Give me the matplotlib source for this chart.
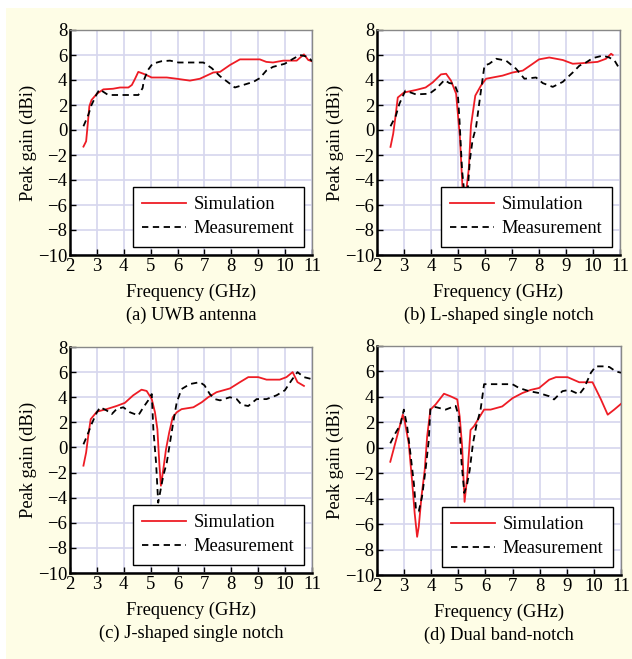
import matplotlib
matplotlib.use('Agg')
import matplotlib.pyplot as plt
from matplotlib.patches import Rectangle

plt.rcParams['font.family'] = ['Liberation Serif', 'DejaVu Serif']
plt.rcParams['font.size'] = 13.3

# (a) UWB antenna
a_sim_f = [2.5, 2.6, 2.64, 2.72, 2.8, 3.0, 3.24, 3.6, 3.86, 4.17, 4.3, 4.42, 4.54, 4.73, 5.04, 5.6,
           5.97, 6.46, 6.83, 7.33, 7.58, 7.95, 8.32, 9.06, 9.3, 9.55, 9.93, 10.43, 10.7, 10.86, 11.0]
a_sim_g = [-1.33, -0.9, 0.0, 1.9, 2.4, 2.9, 3.25, 3.3, 3.4, 3.4, 3.6, 4.1, 4.65, 4.5, 4.2, 4.2,
           4.1, 3.95, 4.1, 4.6, 4.65, 5.2, 5.65, 5.65, 5.45, 5.4, 5.55, 5.55, 6.05, 5.6, 5.5]
a_mea_f = [2.5, 2.68, 2.8, 3.0, 3.1, 3.42, 3.73, 4.54, 4.7, 4.75, 4.9, 5.07, 5.4, 5.72, 6.03, 6.96,
           7.27, 7.58, 7.95, 8.13, 8.44, 8.82, 9.06, 9.3, 9.55, 9.99, 10.3, 10.55, 10.86, 11.0]
a_mea_g = [0.3, 1.2, 2.0, 2.9, 3.25, 2.8, 2.8, 2.8, 3.35, 4.0, 4.8, 5.3, 5.5, 5.55, 5.4, 5.4,
           4.95, 4.3, 3.7, 3.4, 3.6, 3.85, 4.15, 4.75, 5.05, 5.3, 5.7, 6.0, 5.85, 5.5]

# (b) L-shaped single notch
b_sim_f = [2.5, 2.6, 2.68, 2.77, 3.0, 3.44, 3.8, 4.06, 4.37, 4.56, 4.74, 4.93, 5.07, 5.17, 5.3, 5.4,
           5.48, 5.64, 5.85, 6.04, 6.65, 7.02, 7.4, 7.77, 8.0, 8.38, 8.88, 9.25, 9.62, 10.17, 10.48,
           10.67, 10.73]
b_sim_g = [-1.35, -0.3, 1.0, 2.6, 3.0, 3.2, 3.4, 3.8, 4.45, 4.5, 3.95, 2.9, -0.55, -4.8, -4.95, -3.1,
           0.35, 2.75, 3.55, 4.1, 4.35, 4.6, 4.75, 5.3, 5.65, 5.8, 5.6, 5.3, 5.35, 5.45, 5.7,
           6.1, 6.0]
b_mea_f = [2.5, 2.7, 2.83, 3.05, 3.44, 3.94, 4.19, 4.5, 4.68, 4.86, 4.99, 5.05, 5.15, 5.23, 5.36,
           5.44, 5.54, 5.67, 5.85, 5.98, 6.16, 6.41, 6.78, 7.15, 7.46, 7.89, 8.14, 8.51, 8.88, 9.25,
           9.5, 9.74, 9.99, 10.36, 10.6, 10.8, 10.98]
b_mea_g = [0.3, 1.15, 2.1, 3.15, 2.85, 2.9, 3.3, 4.0, 3.75, 3.7, 3.0, 1.0, -3.2, -4.95, -4.8,
           -2.4, -0.8, 0.25, 3.15, 5.15, 5.3, 5.7, 5.55, 4.9, 4.1, 4.2, 3.75, 3.45, 3.85, 4.6,
           5.15, 5.4, 5.75, 5.95, 5.8, 5.55, 4.9]

# (c) J-shaped single notch
c_sim_f = [2.5, 2.6, 2.68, 2.77, 3.0, 3.36, 3.73, 4.04, 4.35, 4.66, 4.85, 5.04, 5.16, 5.25, 5.32,
           5.38, 5.47, 5.57, 5.69, 5.82, 5.97, 6.15, 6.59, 6.9, 7.14, 7.45, 7.95, 8.32, 8.63, 9.0,
           9.31, 9.8, 10.05, 10.28, 10.46, 10.7]
c_sim_g = [-1.45, -0.4, 0.95, 2.25, 2.85, 3.05, 3.3, 3.55, 4.15, 4.6, 4.5, 3.85, 2.8, 1.45, -1.2,
           -3.05, -1.75, -0.15, 1.2, 2.4, 2.8, 3.05, 3.2, 3.6, 4.0, 4.4, 4.7, 5.2, 5.6, 5.6,
           5.4, 5.4, 5.6, 6.0, 5.2, 4.9]
c_mea_f = [2.5, 2.64, 2.8, 3.0, 3.12, 3.36, 3.55, 3.73, 3.98, 4.23, 4.54, 4.73, 4.91, 5.04, 5.1,
           5.2, 5.28, 5.35, 5.47, 5.6, 5.72, 5.84, 5.97, 6.15, 6.46, 6.83, 7.0, 7.2, 7.39, 7.58,
           7.95, 8.2, 8.38, 8.63, 8.94, 9.31, 9.68, 9.99, 10.24, 10.46, 10.7, 10.98]
c_mea_g = [0.25, 0.95, 1.85, 2.8, 3.2, 2.95, 2.65, 3.05, 3.2, 2.8, 2.55, 3.2, 3.75, 4.25, 1.45,
           -1.2, -4.4, -3.6, -2.25, -1.2, 0.4, 2.0, 3.6, 4.65, 5.05, 5.2, 4.95, 4.25, 3.85, 3.75,
           4.0, 3.85, 3.4, 3.3, 3.85, 3.85, 4.15, 4.55, 5.35, 6.0, 5.6, 5.45]

# (d) Dual band-notch
d_sim_f = [2.49, 2.74, 2.95, 3.02, 3.17, 3.29, 3.39, 3.48, 3.54, 3.64, 3.76, 3.85, 3.97, 4.16, 4.47,
           4.71, 4.96, 5.05, 5.14, 5.23, 5.33, 5.45, 5.58, 5.76, 5.95, 6.19, 6.62, 7.0, 7.36, 7.67,
           7.98, 8.35, 8.6, 9.03, 9.46, 9.95, 10.26, 10.51, 10.75, 11.0]
d_sim_g = [-1.1, 0.9, 2.6, 2.1, 0.35, -2.5, -5.15, -7.0, -6.2, -3.85, -1.75, 0.9, 3.0, 3.4, 4.25,
           4.05, 3.8, 2.45, 0.1, -4.25, -2.25, 1.4, 1.7, 2.35, 3.0, 3.0, 3.25, 3.9, 4.3, 4.55,
           4.7, 5.35, 5.55, 5.55, 5.15, 5.15, 3.8, 2.6, 3.0, 3.45]
d_mea_f = [2.49, 2.68, 2.86, 2.99, 3.11, 3.23, 3.36, 3.44, 3.54, 3.66, 3.79, 3.91, 3.97, 4.16, 4.53,
           4.9, 5.02, 5.12, 5.22, 5.33, 5.42, 5.54, 5.66, 5.82, 5.95, 6.13, 6.99, 7.24, 7.61, 7.98,
           8.35, 8.53, 8.84, 9.09, 9.46, 9.64, 9.89, 10.07, 10.38, 10.57, 10.81, 11.0]
d_mea_g = [0.35, 1.15, 1.8, 3.0, 1.7, -0.4, -2.8, -4.9, -5.0, -3.85, -1.75, 0.6, 3.1, 3.2, 3.0,
           3.3, 2.45, -1.2, -3.55, -2.8, -1.75, 0.35, 1.7, 3.0, 5.0, 5.0, 5.0, 4.7, 4.45, 4.3,
           4.05, 3.8, 4.45, 4.55, 4.2, 4.7, 5.9, 6.4, 6.4, 6.35, 6.0, 5.9]

captions = ['(a) UWB antenna', '(b) L-shaped single notch',
            '(c) J-shaped single notch', '(d) Dual band-notch']

fig = plt.figure(figsize=(6.32, 6.59), dpi=100)
fig.patch.set_facecolor('white')
fig.patches.append(Rectangle((6 / 632, 0), 1, 1 - 8 / 659, transform=fig.transFigure,
                             facecolor='#FEFDE6', edgecolor='none', zorder=-10))

# axes boxes in pixels: left, top, right, bottom
boxes = [(70, 30, 312, 255), (377, 30, 620, 255), (70, 347, 312, 573), (377, 346, 621, 575)]
data = [(a_sim_f, a_sim_g, a_mea_f, a_mea_g), (b_sim_f, b_sim_g, b_mea_f, b_mea_g),
        (c_sim_f, c_sim_g, c_mea_f, c_mea_g), (d_sim_f, d_sim_g, d_mea_f, d_mea_g)]

W, H = 632.0, 659.0
for i in range(4):
    l, t, r, b = boxes[i]
    ax = fig.add_axes([l / W, 1 - b / H, (r - l) / W, (b - t) / H])
    sf, sg, mf, mg = data[i]
    ax.plot(sf, sg, color='#EE1C25', lw=1.3, label='Simulation', zorder=3)
    ax.plot(mf, mg, color='black', lw=1.3, ls=(0, (3.5, 2.5)), label='Measurement', zorder=4)
    ax.set_xlim(2, 11)
    ax.set_ylim(-10, 8)
    ax.set_xticks(range(2, 12))
    ax.set_yticks(range(-10, 9, 2))
    ax.set_yticklabels([str(v).replace('-', '\u2212') for v in range(-10, 9, 2)])
    ax.grid(True, color='#D6D6EE', lw=1.2)
    ax.set_axisbelow(True)
    ax.tick_params(direction='in', length=4, width=1, pad=2, labelsize=13.5)
    for s in ['left', 'bottom']:
        ax.spines[s].set_linewidth(1.8)
        ax.spines[s].set_color('black')
    for s in ['top', 'right']:
        ax.spines[s].set_linewidth(1.0)
        ax.spines[s].set_color('#888888')
    leg = ax.legend(loc='lower right', fontsize=13.3, frameon=True, fancybox=False,
                    edgecolor='black', framealpha=1, handlelength=2.4, borderpad=0.5,
                    labelspacing=0.4, borderaxespad=0.45, handletextpad=0.4)
    leg.get_frame().set_linewidth(1.0)
    cx = (l + r) / 2.0
    fig.text(cx / W, 1 - (b + 37) / H, 'Frequency (GHz)', ha='center', va='center', fontsize=13.3)
    fig.text(cx / W, 1 - (b + 60) / H, captions[i], ha='center', va='center', fontsize=13.3)
    fig.text((l - 42) / W, 1 - (t + b) / 2.0 / H, 'Peak gain (dBi)', ha='center', va='center',
             rotation=90, fontsize=13.3)

plt.savefig('out.png', dpi=100, facecolor=fig.get_facecolor())
